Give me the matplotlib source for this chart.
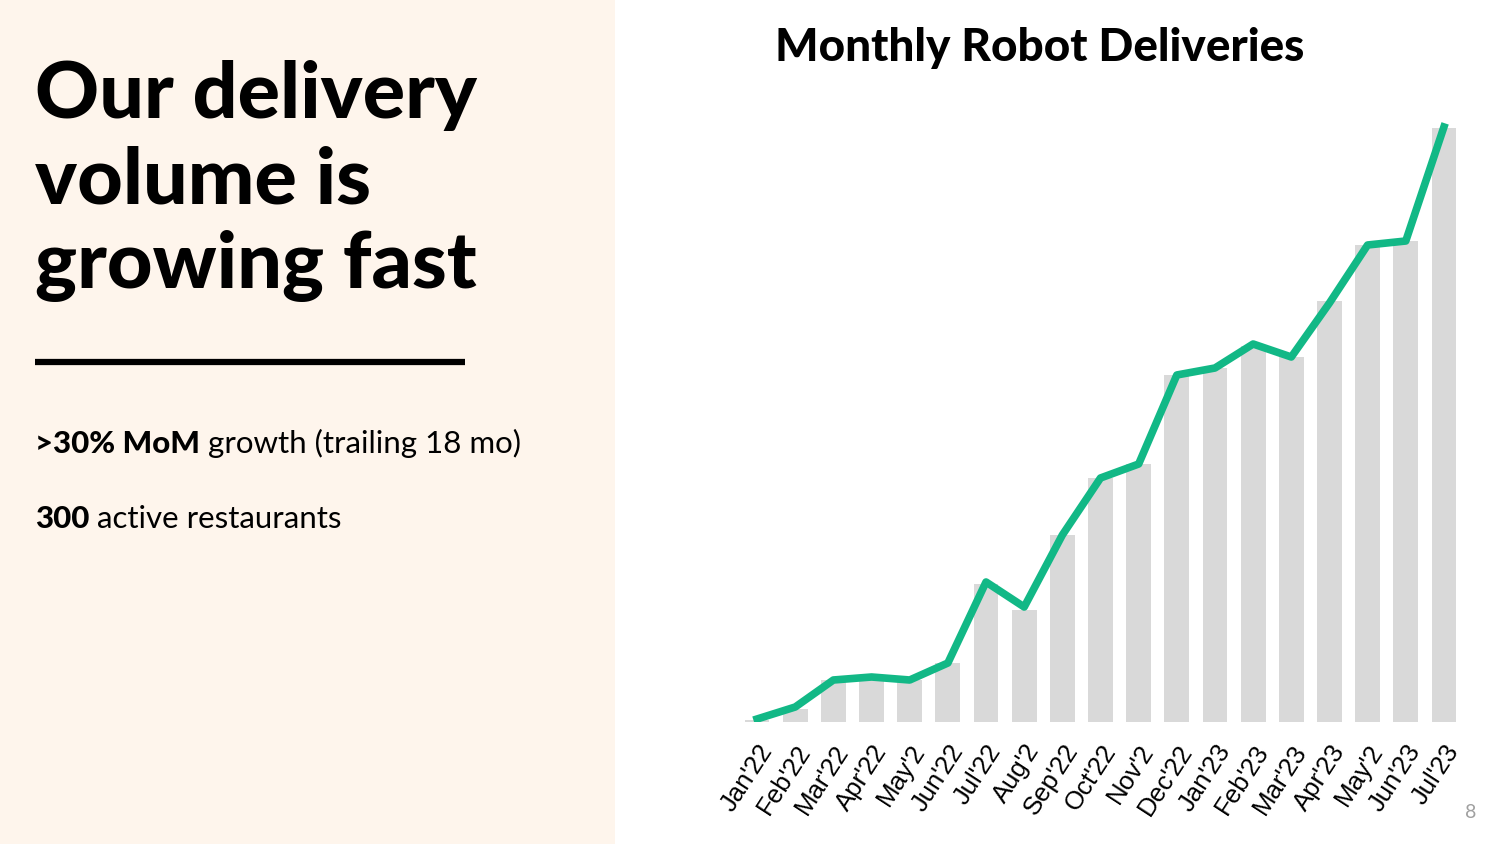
import matplotlib.pyplot as plt
from matplotlib.patches import Rectangle
from matplotlib.lines import Line2D

# data (no y-axis shown, so units are relative)
months = ["Jan'22", "Feb'22", "Mar'22", "Apr'22", "May'2", "Jun'22", "Jul'22", "Aug'2",
          "Sep'22", "Oct'22", "Nov'2", "Dec'22", "Jan'23", "Feb'23", "Mar'23", "Apr'23",
          "May'2", "Jun'23", "Jul'23"]
deliveries = [2, 13, 42, 45, 42, 59, 138, 112, 187, 244, 258, 347, 354, 376, 365, 421,
              477, 481, 594]
trend = [3, 15, 42, 45, 42, 59, 140, 115, 187, 244, 258, 347, 354, 378, 365, 419,
         477, 481, 595]

cream = "#FEF5EC"
green = "#12B886"
grey = "#D9D9D9"

fig = plt.figure(figsize=(15, 8.44), dpi=100)
fig.patch.set_facecolor("white")

# left cream panel
fig.add_artist(Rectangle((0, 0), 615 / 1500, 1, transform=fig.transFigure,
                         facecolor=cream, edgecolor="none", zorder=0))

# headline
for i, line in enumerate(["Our delivery", "volume is", "growing fast"]):
    fig.text(35 / 1500, 1 - (118 + 85 * i) / 844, line, fontsize=57, fontweight="black",
             family="Lato", color="black", va="baseline", ha="left")

fig.add_artist(Line2D([35 / 1500, 465 / 1500], [1 - 362 / 844] * 2, transform=fig.transFigure,
                      color="black", linewidth=4.5, solid_capstyle="butt"))

# bullet lines: bold part then regular part
renderer = fig.canvas.get_renderer()
bullets = [(">30% MoM", " growth (trailing 18 mo)", 453), ("300", " active restaurants", 528)]
for bold, rest, yb in bullets:
    t = fig.text(35 / 1500, 1 - yb / 844, bold, fontsize=22.5, fontweight="black", family="Lato",
                 va="baseline", ha="left")
    bb = t.get_window_extent(renderer=renderer)
    fig.text(bb.x1 / 1500, 1 - yb / 844, rest, fontsize=22.5, fontweight="normal", family="Lato",
             va="baseline", ha="left")

# chart
ax = fig.add_axes([738 / 1500, 1 - 722 / 844, 725 / 1500, 600 / 844])
x = range(len(months))
ax.bar(x, deliveries, width=0.65, color=grey, zorder=1)
ax.plot(x, trend, color=green, linewidth=5.5, zorder=2)
ax.set_xlim(-0.5, len(months) - 0.5)
ax.set_ylim(0, 600)
ax.set_xticks(list(x))
ax.set_xticklabels(months, rotation=57, ha="right", rotation_mode="anchor",
                   fontsize=18.5, family="Liberation Sans")
ax.tick_params(axis="x", length=0, pad=13)
ax.set_yticks([])
for s in ax.spines.values():
    s.set_visible(False)
ax.set_facecolor("none")

fig.text(1040 / 1500, 1 - 48 / 844, "Monthly Robot Deliveries", fontsize=33, fontweight="black",
         family="Lato", ha="center", va="center")

fig.text(1471 / 1500, 1 - 812 / 844, "8", fontsize=14, color="#A0A0A0", family="Lato",
         ha="center", va="center")

fig.savefig("out.png", dpi=100)
